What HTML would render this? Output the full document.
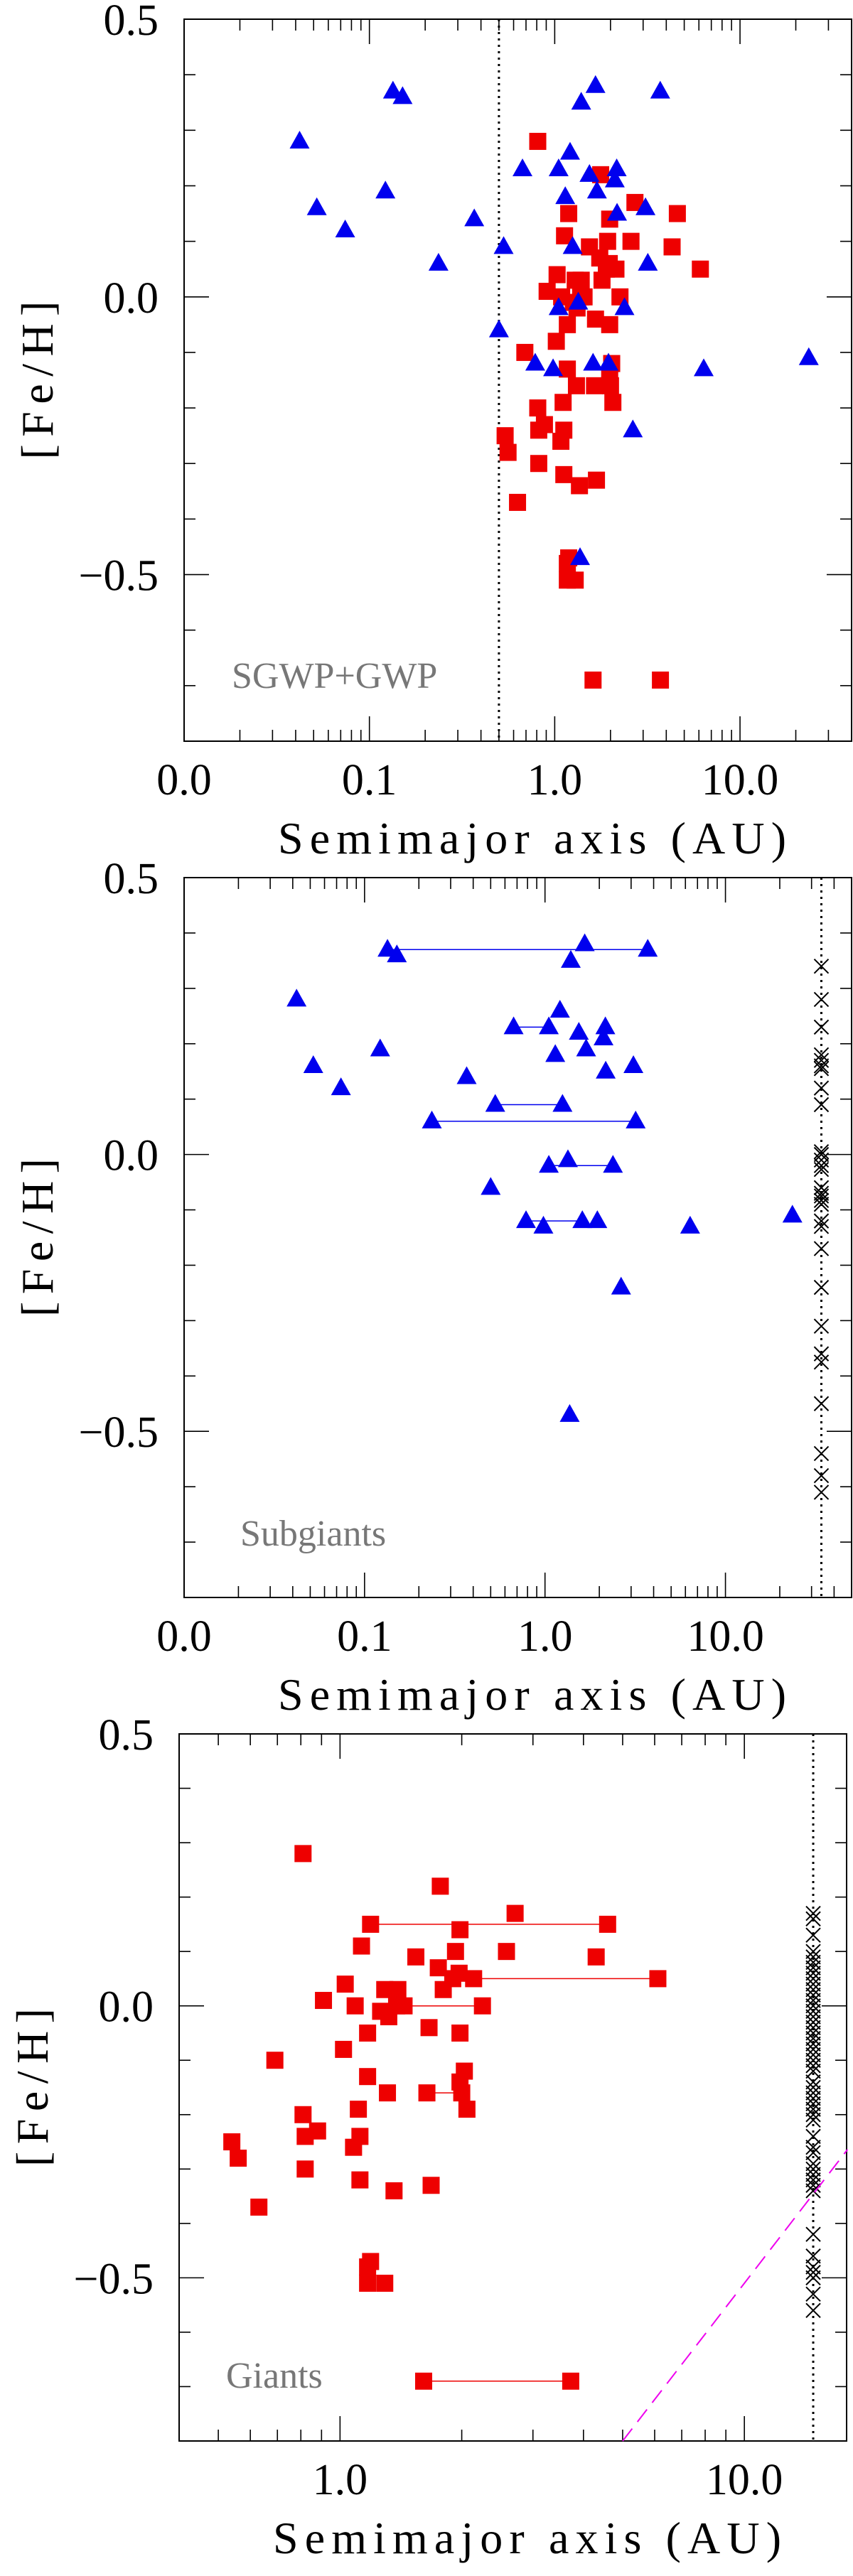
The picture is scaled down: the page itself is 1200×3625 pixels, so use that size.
<!DOCTYPE html>
<html><head><meta charset="utf-8">
<style>
html,body{margin:0;padding:0;background:#fff;}
svg{display:block;}
text{font-family:"Liberation Serif",serif;}
</style></head>
<body>
<svg id="chart" width="1200" height="3625" viewBox="0 0 1200 3625" xmlns="http://www.w3.org/2000/svg"></svg>
<script>
// Subgiant planets (blue triangles): semimajor axis (AU), [Fe/H]
const subA = [0.042,0.052,0.074,0.122,0.134,0.151,0.236,0.368,0.50,0.53,0.67,0.785,0.98,1.05,1.05,1.14,1.21,1.25,1.34,1.37,1.39,1.54,1.61,1.66,1.69,1.95,2.11,2.16,2.17,2.38,2.64,3.09,3.18,3.71,6.37,23.5];
const subFe = [0.28,0.16,0.12,0.19,0.37,0.36,0.06,0.14,-0.06,0.09,0.23,-0.12,-0.13,0.23,-0.02,0.18,0.26,0.09,-0.01,-0.47,0.35,0.22,-0.12,0.38,0.19,-0.12,0.21,0.23,0.15,-0.02,-0.24,0.16,0.06,0.37,-0.13,-0.11];
// multi-planet links for subgiants
const subLinkA1 = [0.134,0.67,0.53,0.236,1.05,0.785];
const subLinkA2 = [3.71,1.05,1.25,3.18,2.38,1.61];
const subLinkFe = [0.37,0.23,0.09,0.06,-0.02,-0.12];
// Subgiant comparison stars without planets (crosses)
const subNoFe = [0.34,0.28,0.23,0.18,0.17,0.16,0.155,0.12,0.09,0.005,0,-0.01,-0.02,-0.027,-0.06,-0.07,-0.075,-0.083,-0.09,-0.12,-0.13,-0.17,-0.24,-0.31,-0.36,-0.375,-0.45,-0.54,-0.58,-0.61];
const subNoA = 34;

// Giant planets (red squares)
const giaA = [0.54,0.56,0.63,0.69,0.81,0.81,0.82,0.82,0.88,0.91,1.02,1.03,1.08,1.09,1.11,1.12,1.12,1.13,1.17,1.17,1.17,1.17,1.19,1.19,1.26,1.29,1.31,1.32,1.36,1.29,1.39,1.38,1.44,1.54,1.61,1.64,1.66,1.68,1.75,1.77,1.80,1.90,1.93,1.97,1.98,1.98,1.98,2.0,2.03,2.06,2.14,2.25,2.58,2.71,3.72,4.30,4.59,6.11];
const giaFe = [-0.25,-0.28,-0.37,-0.10,0.28,-0.20,-0.24,-0.30,-0.23,0.01,-0.08,0.04,-0.26,0.0,-0.19,-0.24,-0.32,0.11,-0.51,-0.13,-0.48,-0.05,-0.47,0.15,-0.01,0.03,-0.16,-0.02,-0.34,-0.51,0.03,0.0,0.0,0.09,-0.69,-0.16,-0.04,-0.33,0.07,0.22,0.03,0.05,0.10,0.06,-0.14,0.14,-0.05,-0.16,-0.12,-0.19,0.05,0.0,0.10,0.17,-0.69,0.09,0.15,0.05];
const giaLinkA1 = [1.19,2.14,1.38,1.64,1.61];
const giaLinkA2 = [4.59,6.11,2.25,2.0,3.72];
const giaLinkFe = [0.15,0.05,0.0,-0.16,-0.69];
const giaNoFe = [0.17,0.16,0.13,0.10,0.09,0.08,0.07,0.06,0.05,0.04,0.03,0.02,0.01,0.0,-0.01,-0.02,-0.03,-0.04,-0.05,-0.06,-0.07,-0.08,-0.09,-0.10,-0.11,-0.12,-0.14,-0.15,-0.16,-0.17,-0.18,-0.19,-0.20,-0.21,-0.24,-0.26,-0.27,-0.29,-0.30,-0.31,-0.32,-0.33,-0.34,-0.42,-0.46,-0.48,-0.49,-0.50,-0.53,-0.56];
const giaNoA = 14.8;
const dashA = [5.0, 18.0];
const dashFe = [-0.8, -0.264];

const p12XTicks = [0.01,0.1,1,10];
const p12XLabels = ["0.0","0.1","1.0","10.0"];
const p3XTicks = [1,10];
const p3XLabels = ["1.0","10.0"];
const yTicks = [0.5,0.0,-0.5];
const yLabels = ["0.5","0.0","\u22120.5"];

const NS = "http://www.w3.org/2000/svg";
const svg = document.getElementById('chart');
function mk(tag, attrs, parent){
  const e = document.createElementNS(NS, tag);
  for (const k in attrs) e.setAttribute(k, attrs[k]);
  (parent||svg).appendChild(e);
  return e;
}

function panel(cfg){
  const g = mk('g', {});
  
  
  const L=cfg.L,R=cfg.R,T=cfg.T,B=cfg.B;
  const lx0=Math.log10(cfg.xmin), lx1=Math.log10(cfg.xmax);
  const X = a => L + (Math.log10(a)-lx0)/(lx1-lx0)*(R-L);
  const Y = f => T + (0.5-f)/(1.3)*(B-T);
  const tk = mk('g', {stroke:'#000','stroke-width':1.6}, g);
  
  
  for (let d=Math.floor(lx0); d<=Math.ceil(lx1); d++){
    for (let m=1; m<=9; m++){
      const v = m*Math.pow(10,d);
      if (v < cfg.xmin*0.999 || v > cfg.xmax*1.001) continue;
      const x = X(v), len = m===1?35:16;
      mk('line',{x1:x,x2:x,y1:B,y2:B-len},tk);
      mk('line',{x1:x,x2:x,y1:T,y2:T+len},tk);
    }
  }
  for (let i=-8;i<=5;i++){
    const f=i/10, y=Y(f), len=(i%5===0)?35:16;
    mk('line',{x1:L,x2:L+len,y1:y,y2:y},tk);
    mk('line',{x1:R,x2:R-len,y1:y,y2:y},tk);
  }
  const fr = mk('rect',{x:L,y:T,width:R-L,height:B-T,fill:'none',stroke:'#000','stroke-width':2},g);
  
  
  cfg.xt.forEach((v,i)=>{
    const t = mk('text',{x:X(v),y:B+75,'font-size':62,'text-anchor':'middle',fill:'#000'},g);
    t.textContent = cfg.xl[i];
    
    
  });
  yTicks.forEach((v,i)=>{
    const t = mk('text',{x:L-36,y:Y(v)+22,'font-size':62,'text-anchor':'end',fill:'#000'},g);
    t.textContent = yLabels[i];
    
    
  });
  const xt = mk('text',{x:(L+R)/2+20,y:B+158,'font-size':64,'text-anchor':'middle',fill:'#000',textLength:715,lengthAdjust:'spacing'},g);
  xt.textContent = 'Semimajor axis (AU)';
  
  
  const cy=(T+B)/2;
  const yt = mk('text',{x:0,y:0,'font-size':64,'text-anchor':'middle',fill:'#000',textLength:223,lengthAdjust:'spacing',transform:`translate(${L-185},${cy}) rotate(-90)`},g);
  yt.textContent = '[Fe/H]';
  
  
  const lb = mk('text',{x:cfg.labelX,y:cfg.labelY,'font-size':52,fill:'#777'},g);
  lb.textContent = cfg.label;
  
  
  if (cfg.vline){
    const vl = mk('line',{x1:X(cfg.vline),x2:X(cfg.vline),y1:T,y2:B,stroke:'#000','stroke-width':3,'stroke-dasharray':'3 6'},g);
    
    
  }
  return {g,X,Y};
}

function triangles(p, A, F){
  A.forEach((a,i)=>{
    const x=p.X(a), y=p.Y(F[i]);
    const t = mk('polygon',{points:`${x},${y-15} ${x-14},${y+10} ${x+14},${y+10}`,fill:'#0000ee'},p.g);
    
    
  });
}
function squares(p, A, F){
  A.forEach((a,i)=>{
    const x=p.X(a), y=p.Y(F[i]);
    const s = mk('rect',{x:x-12,y:y-12,width:24,height:24,fill:'#ee0000'},p.g);
    
    
  });
}
function links(p, A1, A2, F, col){
  A1.forEach((a,i)=>{
    const l = mk('line',{x1:p.X(a),x2:p.X(A2[i]),y1:p.Y(F[i]),y2:p.Y(F[i]),stroke:col,'stroke-width':1.5},p.g);
    
    
  });
}
function crosses(p, a, F){
  F.forEach(f=>{
    const x=p.X(a), y=p.Y(f), r=10;
    const c = mk('path',{d:`M${x-r},${y-r}L${x+r},${y+r}M${x-r},${y+r}L${x+r},${y-r}`,stroke:'#000','stroke-width':2,fill:'none'},p.g);
    
    
  });
}

const p1 = panel({name:'panel-sgwp-gwp',L:259,R:1198,T:27,B:1043,xmin:0.01,xmax:40,xt:p12XTicks,xl:p12XLabels,label:'SGWP+GWP',labelX:326,labelY:968,vline:0.5});
squares(p1, giaA, giaFe);
triangles(p1, subA, subFe);

const p2 = panel({name:'panel-subgiants',L:259,R:1198,T:1235,B:2248,xmin:0.01,xmax:50,xt:p12XTicks,xl:p12XLabels,label:'Subgiants',labelX:338,labelY:2175,vline:34});
links(p2, subLinkA1, subLinkA2, subLinkFe, '#0000ee');
triangles(p2, subA, subFe);
crosses(p2, subNoA, subNoFe);

const p3 = panel({name:'panel-giants',L:252,R:1191,T:2440,B:3435,xmin:0.4,xmax:17.9,xt:p3XTicks,xl:p3XLabels,label:'Giants',labelX:318,labelY:3360,vline:14.8});
links(p3, giaLinkA1, giaLinkA2, giaLinkFe, '#ee0000');
squares(p3, giaA, giaFe);
crosses(p3, giaNoA, giaNoFe);
const dl = mk('line',{x1:p3.X(dashA[0]),y1:p3.Y(dashFe[0]),x2:p3.X(dashA[1]),y2:p3.Y(dashFe[1]),stroke:'#ee00ee','stroke-width':2,'stroke-dasharray':'22 12'},p3.g);


</script>
</body></html>
